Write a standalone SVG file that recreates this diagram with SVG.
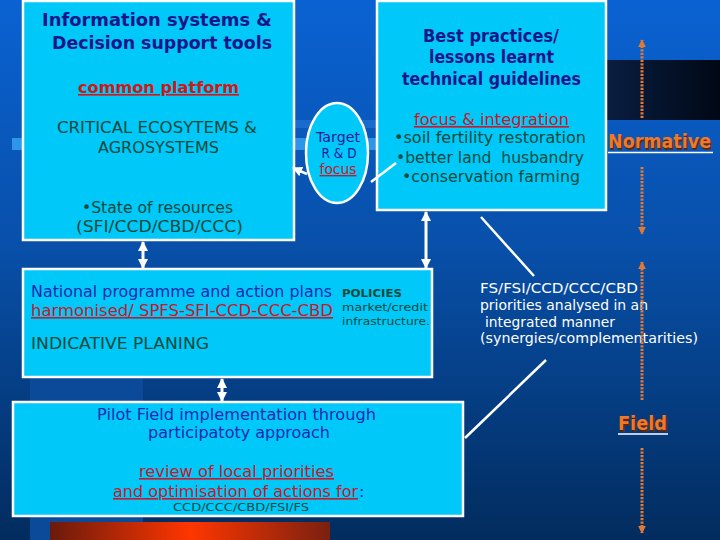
<svg xmlns="http://www.w3.org/2000/svg" width="720" height="540" viewBox="0 0 720 540">
<defs>
<linearGradient id="bg" x1="0" y1="0" x2="0" y2="1">
<stop offset="0" stop-color="#0a62d2"/>
<stop offset="0.45" stop-color="#0850aa"/>
<stop offset="1" stop-color="#022c5e"/>
</linearGradient>
<linearGradient id="dark" x1="0" y1="0" x2="1" y2="0">
<stop offset="0" stop-color="#0a1e42"/>
<stop offset="1" stop-color="#000814"/>
</linearGradient>
<linearGradient id="red" x1="0" y1="0" x2="1" y2="0">
<stop offset="0" stop-color="#6a1a0c"/>
<stop offset="0.5" stop-color="#ff3600"/>
<stop offset="1" stop-color="#7a2010"/>
</linearGradient>
<marker id="ah" viewBox="0 0 10 10" refX="9" refY="5" markerWidth="10" markerHeight="10" markerUnits="userSpaceOnUse" orient="auto-start-reverse">
<path d="M0,0 L10,5 L0,10 z" fill="#ffffff"/>
</marker>
<marker id="oh" viewBox="0 0 10 10" refX="9" refY="5" markerWidth="8" markerHeight="8" markerUnits="userSpaceOnUse" orient="auto-start-reverse">
<path d="M0,0 L10,5 L0,10 z" fill="#e07838"/>
</marker>
<style>
.box{fill:#00c8f8;stroke:#ffffff;stroke-width:2.5}
text{font-family:"DejaVu Sans","Liberation Sans",sans-serif;white-space:pre}
.ttl{font-size:17px;font-weight:bold;fill:#16168a}
.red{fill:#c8182c;text-decoration:underline}
.grn{fill:#0c4a3c}
.nav{fill:#1a2ab0}
.wht{fill:#ffffff;font-size:13.5px}
.lab{font-size:19px;font-weight:bold;fill:#f07828}
.sh{font-size:19px;font-weight:bold;fill:#5a2a10}
.arr{stroke:#ffffff;stroke-width:3;fill:none}
.ln{stroke:#ffffff;stroke-width:2.5;fill:none}
.dot{stroke:#e07838;stroke-width:3;stroke-dasharray:2.2 1.3;fill:none}
</style>
</defs>
<rect x="0" y="0" width="720" height="540" fill="url(#bg)"/>
<rect x="606" y="60" width="114" height="60" fill="url(#dark)"/>
<rect x="294" y="120" width="84" height="8" fill="#1a6ccc"/>
<rect x="12" y="138" width="366" height="12" fill="#2e96e6"/>
<rect x="30" y="370" width="113" height="170" fill="#0a4a98"/>
<rect x="50" y="522" width="280" height="18" fill="url(#red)"/>

<g id="info-systems">
<rect class="box" x="23" y="1" width="271" height="239"/>
<text class="ttl" x="157" y="26" text-anchor="middle" textLength="230" lengthAdjust="spacingAndGlyphs">Information systems &amp;</text>
<text class="ttl" x="162" y="49" text-anchor="middle" textLength="220" lengthAdjust="spacingAndGlyphs">Decision support tools</text>
<text class="red" x="158.5" y="93" font-size="16" font-weight="bold" text-anchor="middle" textLength="161" lengthAdjust="spacingAndGlyphs" style="fill:#d01818">common platform</text>
<text class="grn" x="157" y="133" font-size="15" text-anchor="middle" textLength="200" lengthAdjust="spacingAndGlyphs">CRITICAL ECOSYTEMS &amp;</text>
<text class="grn" x="158.5" y="153" font-size="15" text-anchor="middle" textLength="121" lengthAdjust="spacingAndGlyphs">AGROSYSTEMS</text>
<text class="grn" x="157.5" y="213" font-size="16" text-anchor="middle" textLength="151" lengthAdjust="spacingAndGlyphs">•State of resources</text>
<text class="grn" x="159.5" y="232" font-size="16" text-anchor="middle" textLength="167" lengthAdjust="spacingAndGlyphs">(SFI/CCD/CBD/CCC)</text>
</g>

<g id="target-rd">
<ellipse class="box" cx="337" cy="153" rx="31" ry="50"/>
<text x="338" y="142" font-size="14" fill="#1a1a9a" text-anchor="middle" textLength="44" lengthAdjust="spacingAndGlyphs">Target</text>
<text x="339" y="158" font-size="14" fill="#1a1a9a" text-anchor="middle" textLength="35" lengthAdjust="spacingAndGlyphs">R &amp; D</text>
<text class="red" x="338" y="174" font-size="14" text-anchor="middle" textLength="37" lengthAdjust="spacingAndGlyphs">focus</text>
</g>

<g id="best-practices">
<rect class="box" x="377" y="1" width="229" height="209"/>
<text class="ttl" x="491" y="42" text-anchor="middle" textLength="136" lengthAdjust="spacingAndGlyphs">Best practices/</text>
<text class="ttl" x="491.5" y="63" text-anchor="middle" textLength="125" lengthAdjust="spacingAndGlyphs">lessons learnt</text>
<text class="ttl" x="491.5" y="85" text-anchor="middle" textLength="179" lengthAdjust="spacingAndGlyphs">technical guidelines</text>
<text class="red" x="491.5" y="125" font-size="16" text-anchor="middle" textLength="155" lengthAdjust="spacingAndGlyphs">focus &amp; integration</text>
<text class="grn" x="490" y="143" font-size="16" text-anchor="middle" textLength="192" lengthAdjust="spacingAndGlyphs">•soil fertility restoration</text>
<text class="grn" x="490" y="163" font-size="16" text-anchor="middle" textLength="188" lengthAdjust="spacingAndGlyphs">•better land  husbandry</text>
<text class="grn" x="491" y="182" font-size="16" text-anchor="middle" textLength="178" lengthAdjust="spacingAndGlyphs">•conservation farming</text>
</g>

<g id="normative">
<text class="sh" x="609.5" y="149.5" textLength="103" lengthAdjust="spacingAndGlyphs">Normative</text>
<text class="lab" x="608" y="148" textLength="103" lengthAdjust="spacingAndGlyphs">Normative</text>
<line x1="608" y1="152.5" x2="713" y2="152.5" stroke="#ffffff" stroke-width="1.5"/>
</g>

<g id="national-programme">
<rect class="box" x="23" y="269" width="409" height="108"/>
<text class="nav" x="31" y="297" font-size="15.5" textLength="301" lengthAdjust="spacingAndGlyphs">National programme and action plans</text>
<text class="red" x="31" y="316" font-size="16" textLength="302" lengthAdjust="spacingAndGlyphs">harmonised/ SPFS-SFI-CCD-CCC-CBD</text>
<text class="grn" x="342" y="297" font-size="11" font-weight="bold" textLength="60" lengthAdjust="spacingAndGlyphs">POLICIES</text>
<text class="grn" x="342" y="311" font-size="11" textLength="86" lengthAdjust="spacingAndGlyphs">market/credit</text>
<text class="grn" x="342" y="325" font-size="11" textLength="88" lengthAdjust="spacingAndGlyphs">infrastructure.</text>
<text class="grn" x="31" y="349" font-size="16" textLength="178" lengthAdjust="spacingAndGlyphs">INDICATIVE PLANING</text>
</g>

<g id="pilot-field">
<rect class="box" x="13" y="402" width="450" height="114"/>
<text class="nav" x="236.5" y="420" font-size="16" text-anchor="middle" textLength="279" lengthAdjust="spacingAndGlyphs">Pilot Field implementation through</text>
<text class="nav" x="239" y="438" font-size="16" text-anchor="middle" textLength="182" lengthAdjust="spacingAndGlyphs">participatoty approach</text>
<text class="red" x="236.5" y="477" font-size="16" text-anchor="middle" textLength="195" lengthAdjust="spacingAndGlyphs">review of local priorities</text>
<text class="red" x="113" y="497" font-size="16" textLength="245" lengthAdjust="spacingAndGlyphs">and optimisation of actions for</text>
<text class="nav" x="359" y="497" font-size="16">:</text>
<text class="grn" x="241" y="511" font-size="11" text-anchor="middle" textLength="136" lengthAdjust="spacingAndGlyphs">CCD/CCC/CBD/FSI/FS</text>
</g>

<g id="priorities-note">
<text class="wht" x="480" y="293" textLength="158" lengthAdjust="spacingAndGlyphs">FS/FSI/CCD/CCC/CBD</text>
<text class="wht" x="480" y="310" textLength="168" lengthAdjust="spacingAndGlyphs">priorities analysed in an</text>
<text class="wht" x="485" y="327" textLength="130" lengthAdjust="spacingAndGlyphs">integrated manner</text>
<text class="wht" x="480" y="343" textLength="218" lengthAdjust="spacingAndGlyphs">(synergies/complementarities)</text>
</g>

<g id="field">
<text class="sh" x="619.5" y="431.5" textLength="49" lengthAdjust="spacingAndGlyphs">Field</text>
<text class="lab" x="618" y="430" textLength="49" lengthAdjust="spacingAndGlyphs">Field</text>
<line x1="618" y1="434" x2="668" y2="434" stroke="#ffffff" stroke-width="1.5"/>
</g>

<g id="connectors">
<line class="ln" x1="307" y1="174" x2="293" y2="168" marker-end="url(#ah)"/>
<line class="ln" x1="371" y1="182" x2="396" y2="163"/>
<line class="arr" x1="143" y1="242" x2="143" y2="268" marker-start="url(#ah)" marker-end="url(#ah)"/>
<line class="arr" x1="426" y1="212" x2="426" y2="268" marker-start="url(#ah)" marker-end="url(#ah)"/>
<line class="arr" x1="222" y1="379" x2="222" y2="401" marker-start="url(#ah)" marker-end="url(#ah)"/>
<line class="ln" x1="534" y1="276" x2="481" y2="217"/>
<line class="ln" x1="546" y1="360" x2="465" y2="438"/>
<line class="dot" x1="642" y1="118" x2="642" y2="40" marker-end="url(#oh)"/>
<line class="dot" x1="642" y1="167" x2="642" y2="234" marker-end="url(#oh)"/>
<line class="dot" x1="642" y1="400" x2="642" y2="262" marker-end="url(#oh)"/>
<line class="dot" x1="642" y1="448" x2="642" y2="533" marker-end="url(#oh)"/>
</g>
</svg>
